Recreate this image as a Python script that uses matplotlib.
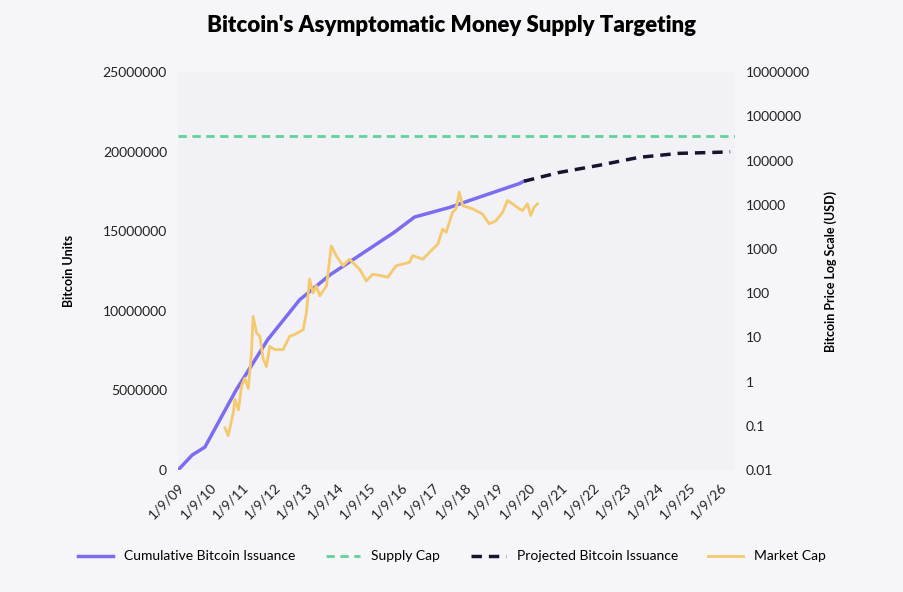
import numpy as np
import matplotlib
matplotlib.use('Agg')
import matplotlib.pyplot as plt

# cumulative issuance (years as decimals, units in millions)
iss_year = [2009.0, 2009.44, 2009.84, 2010.81, 2011.81, 2012.81, 2013.75, 2014.69,
            2015.78, 2016.41, 2017.5, 2018.44, 2019.69, 2019.84]
iss_units = [0, 0.94, 1.44, 5.0, 8.2, 10.7, 12.25, 13.5, 14.95, 15.9, 16.5, 17.15, 18.0, 18.15]

proj_year = [2019.84, 2020.94, 2022.19, 2023.44, 2024.69, 2025.94, 2026.3]
proj_units = [18.15, 18.7, 19.15, 19.65, 19.9, 19.97, 20.0]

supply_cap = 21000000

px_year = [2010.47, 2010.57, 2010.73, 2010.78, 2010.89, 2010.99, 2011.09, 2011.20, 2011.30,
           2011.35, 2011.46, 2011.56, 2011.67, 2011.77, 2011.87, 2012.03, 2012.29, 2012.50,
           2012.66, 2012.92, 2013.02, 2013.12, 2013.23, 2013.33, 2013.44, 2013.65, 2013.80,
           2013.96, 2014.17, 2014.37, 2014.69, 2014.90, 2015.10, 2015.42, 2015.57, 2015.83,
           2016.25, 2016.35, 2016.67, 2016.98, 2017.14, 2017.29, 2017.40, 2017.60, 2017.71,
           2017.81, 2017.92, 2018.23, 2018.54, 2018.75, 2018.96, 2019.17, 2019.32, 2019.48,
           2019.69, 2019.79, 2019.95, 2020.05, 2020.16, 2020.26]
price = [0.09, 0.06, 0.2, 0.4, 0.23, 0.8, 1.2, 0.7, 4.5, 30, 12.6, 10.7, 3.2, 2.2, 6.3, 5.3,
         5.3, 10.7, 11.7, 15, 36, 209, 102, 147, 87, 147, 1175, 700, 417, 589, 347, 190, 269,
         245, 229, 417, 501, 708, 589, 1000, 1290, 2820, 2400, 6760, 8130, 19500, 9550, 8130,
         6170, 3720, 4370, 6760, 12600, 10500, 8130, 7400, 10500, 5750, 8900, 10500]

years = list(range(2009, 2027))
labels = ['1/9/%02d' % (y % 100) for y in years]

plt.rcParams['font.family'] = ['Lato', 'DejaVu Sans']

fig = plt.figure(figsize=(9.04, 5.92), dpi=100)
fig.patch.set_facecolor('#f6f6f9')
ax = fig.add_axes([0.197, 0.206, 0.616, 0.672])
ax.set_facecolor('#f1f1f6')

ax.plot(iss_year, np.array(iss_units) * 1e6, color='#7b6cf0', lw=2.5, label='Cumulative Bitcoin Issuance')
ax.axhline(supply_cap, color='#5fd39a', lw=2, ls=(0, (3, 2)), label='Supply Cap')
ax.plot(proj_year, np.array(proj_units) * 1e6, color='#15152e', lw=2.5, ls=(0, (3, 2)), label='Projected Bitcoin Issuance')
ax.set_ylim(0, 25000000)
ax.set_yticks(range(0, 25000001, 5000000))
ax.set_yticklabels([str(v) for v in range(0, 25000001, 5000000)])
ax.set_xlim(2009, 2026.45)
ax.set_xticks(years)
ax.set_xticklabels(labels, rotation=45, ha='right', rotation_mode='anchor')
ax.set_ylabel('Bitcoin Units', fontweight='bold', fontsize=9, labelpad=20)

ax2 = ax.twinx()
ax2.plot(px_year, price, color='#f5c96e', lw=2, label='Market Cap')
ax2.set_yscale('log')
ax2.set_ylim(0.01, 1e7)
ticks = [0.01, 0.1, 1, 10, 100, 1000, 10000, 100000, 1000000, 10000000]
ax2.set_yticks(ticks)
ax2.set_yticklabels(['0.01', '0.1', '1', '10', '100', '1000', '10000', '100000', '1000000', '10000000'])
ax2.minorticks_off()
ax2.set_ylabel('Bitcoin Price Log Scale (USD)', fontweight='bold', fontsize=9, labelpad=10)

for a in (ax, ax2):
    for s in a.spines.values():
        s.set_visible(False)
    a.tick_params(length=0, labelsize=10, colors='#222222', pad=8)

fig.suptitle("Bitcoin's Asymptomatic Money Supply Targeting", fontweight='heavy', fontsize=16, y=0.975)

h1, l1 = ax.get_legend_handles_labels()
h2, l2 = ax2.get_legend_handles_labels()
fig.legend(h1 + h2, l1 + l2, loc='center', bbox_to_anchor=(0.5, 0.06), ncol=4, frameon=False,
           fontsize=10, handlelength=2.5, columnspacing=2.2)

fig.savefig('out.png', dpi=100, facecolor=fig.get_facecolor())
